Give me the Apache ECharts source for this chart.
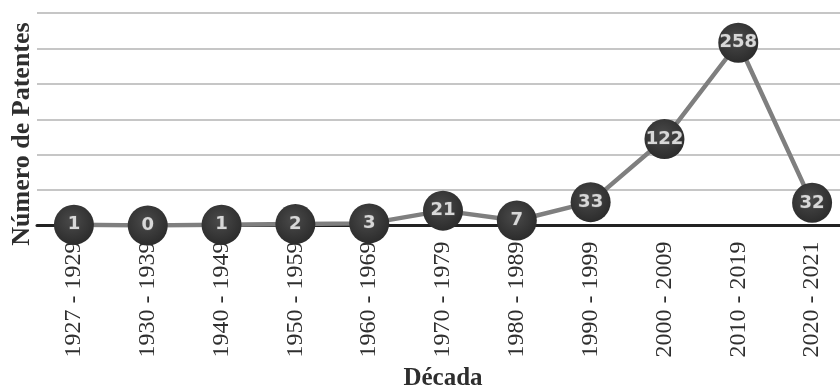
<!DOCTYPE html>
<html>
<head>
<meta charset="utf-8">
<script src="https://cdn.jsdelivr.net/npm/echarts@6/dist/echarts.min.js"></script>
<style>
  html, body { margin: 0; padding: 0; background: #ffffff; }
  #chart { width: 840px; height: 389px; }
</style>
</head>
<body>
<div id="chart"></div>
<script>
// Decades on the category axis
const decades = [
  '1927 - 1929', '1930 - 1939', '1940 - 1949', '1950 - 1959',
  '1960 - 1969', '1970 - 1979', '1980 - 1989', '1990 - 1999',
  '2000 - 2009', '2010 - 2019', '2020 - 2021'
];
// Number of patents per decade
const patents = [1, 0, 1, 2, 3, 21, 7, 33, 122, 258, 32];

const xTitle = 'Década';
const yTitle = 'Número de Patentes';

const serif = '"Liberation Serif", "Times New Roman", serif';

const chart = echarts.init(document.getElementById('chart'), null, { renderer: 'canvas' });

chart.setOption({
  backgroundColor: '#ffffff',
  animation: false,
  textStyle: { fontFamily: serif },
  grid: {
    left: 37,
    top: 13,
    width: 812,
    bottom: 163.5,
    containLabel: false,
    outerBoundsMode: 'none'
  },
  xAxis: {
    type: 'category',
    data: decades,
    boundaryGap: true,
    name: xTitle,
    nameLocation: 'middle',
    nameGap: 141,
    nameTextStyle: {
      fontFamily: serif,
      fontWeight: 'bold',
      fontSize: 25,
      color: '#2e2e2e'
    },
    axisLine: { show: true, lineStyle: { color: '#222222', width: 3 } },
    axisTick: { show: false },
    axisLabel: {
      rotate: 90,
      margin: 16,
      interval: 0,
      fontFamily: serif,
      fontSize: 24,
      color: '#2e2e2e'
    },
    splitLine: { show: false }
  },
  yAxis: {
    type: 'value',
    min: 0,
    max: 300,
    interval: 50,
    axisLine: { show: false },
    axisTick: { show: false },
    axisLabel: { show: false },
    splitLine: { show: true, lineStyle: { color: '#c6c6c6', width: 2 } }
  },
  graphic: [{
    type: 'text',
    x: 22,
    y: 134,
    rotation: Math.PI / 2,
    style: {
      text: yTitle,
      fontFamily: serif,
      fontWeight: 'bold',
      fontSize: 26,
      fill: '#2e2e2e',
      align: 'center',
      verticalAlign: 'middle'
    }
  }],
  series: [{
    type: 'line',
    data: patents,
    symbol: 'circle',
    symbolSize: 40,
    z: 5,
    lineStyle: { color: '#7f7f7f', width: 4.5 },
    itemStyle: {
      color: {
        type: 'radial', x: 0.45, y: 0.4, r: 0.6,
        colorStops: [
          { offset: 0, color: '#4a4a4a' },
          { offset: 1, color: '#2c2c2c' }
        ]
      },
      borderWidth: 0
    },
    label: {
      show: true,
      position: 'inside',
      fontFamily: '"DejaVu Sans", sans-serif',
      fontWeight: 'bold',
      fontSize: 18,
      color: '#d8d8d8',
      textBorderColor: '#555555',
      textBorderWidth: 1
    },
    emphasis: { disabled: true }
  }]
});
</script>
</body>
</html>
